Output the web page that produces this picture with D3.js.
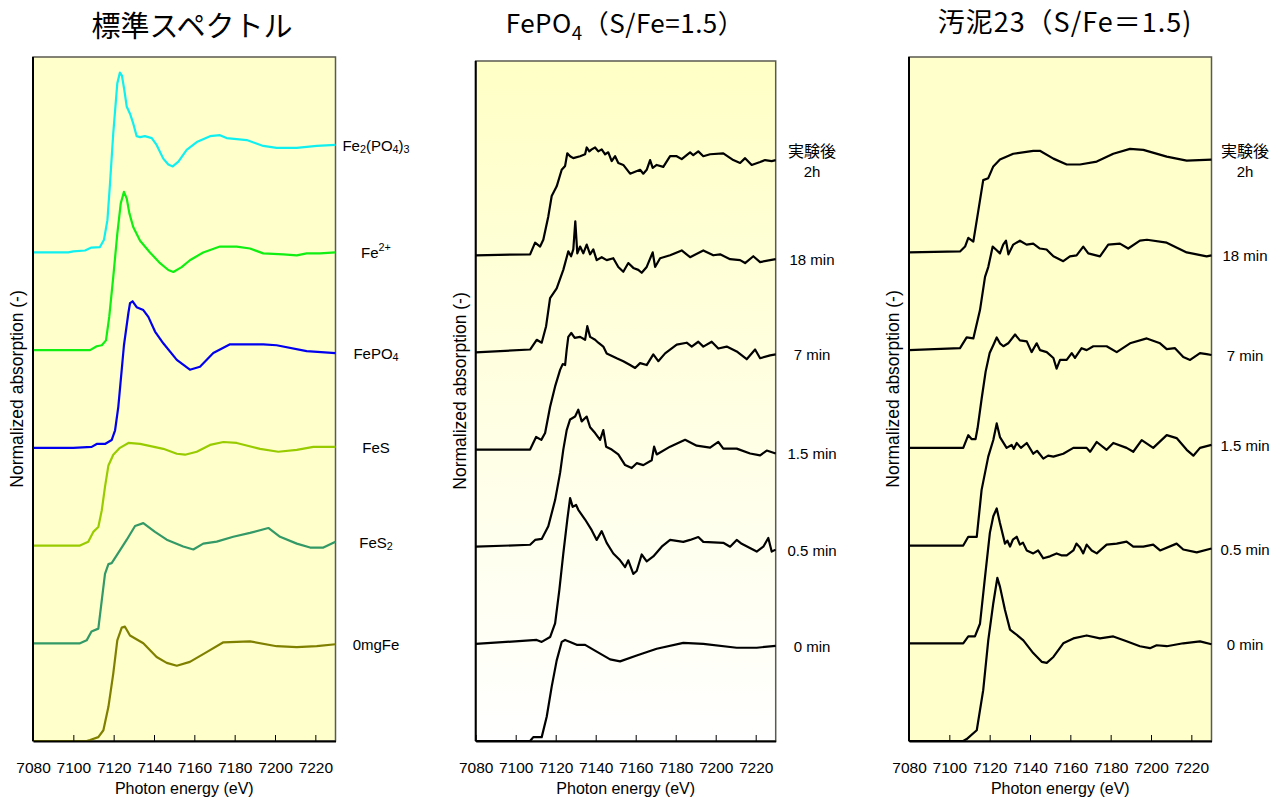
<!DOCTYPE html>
<html>
<head>
<meta charset="utf-8">
<script src="https://cdn.jsdelivr.net/npm/d3@7"></script>
<style>
  body { margin: 0; background: #fff; }
  svg text { font-family: "Liberation Sans", Arial, sans-serif; fill: #000; }
</style>
</head>
<body>
<svg id="chart" width="1283" height="799"></svg>
<script>
// ---- data (energy in eV, normalized absorption without stack offset) ----
var energyTicks = [7080, 7100, 7120, 7140, 7160, 7180, 7200, 7220];

// standard spectra, bottom to top
var std0mgFe = [[7080,0],[7106.6,0],[7108.3,0.01],[7112.4,0.04],[7114.9,0.11],[7117.4,0.35],[7119.8,0.69],[7121.8,1.03],[7124,1.16],[7125.6,1.17],[7128.1,1.08],[7134.7,1.0],[7141.3,0.86],[7146.3,0.80],[7151.3,0.77],[7157.8,0.81],[7166.1,0.91],[7174.4,1.01],[7187.6,1.02],[7200.8,0.97],[7210.8,0.96],[7220.7,0.97],[7230,0.99]];
var stdFeS2 = [[7080,0],[7103.3,0],[7106.6,0.03],[7109,0.12],[7112.4,0.15],[7114.1,0.44],[7115.7,0.71],[7117.4,0.81],[7119,0.82],[7121.5,0.90],[7126.5,1.06],[7130.6,1.20],[7134.7,1.23],[7140.5,1.14],[7146.3,1.06],[7154.5,0.99],[7159.5,0.96],[7164.4,1.02],[7171.1,1.04],[7179.3,1.09],[7187.6,1.13],[7196.7,1.18],[7202.5,1.09],[7210.8,1.02],[7217.4,0.98],[7224,0.98],[7230,1.04]];
var stdFeS = [[7080,0],[7103.3,0],[7107.4,0.04],[7109.9,0.14],[7112.4,0.19],[7114.1,0.36],[7115.7,0.60],[7117.4,0.82],[7119.8,0.93],[7123.1,1.0],[7127.3,1.05],[7133.1,1.04],[7144.6,0.99],[7151.3,0.94],[7155.4,0.93],[7161.2,0.96],[7167.8,1.03],[7174.4,1.06],[7181,1.05],[7192.6,0.99],[7201.6,0.96],[7210.8,0.98],[7219,1.01],[7230,1.01]];
var stdFePO4 = [[7080,0],[7100,0],[7109.1,0.01],[7111.6,0.04],[7115.7,0.04],[7119,0.08],[7120.7,0.18],[7122.3,0.42],[7124,0.80],[7125.1,1.05],[7127.3,1.38],[7128.1,1.48],[7129.4,1.50],[7131.4,1.44],[7134.7,1.41],[7137.2,1.34],[7140.5,1.19],[7144.6,1.07],[7151.3,0.90],[7157.8,0.80],[7162.8,0.83],[7169.4,0.97],[7177.7,1.06],[7194.2,1.06],[7200.8,1.05],[7215.7,0.99],[7230,0.97]];
var stdFe2plus = [[7080,0],[7108.3,0],[7111.6,0.04],[7114.1,0.05],[7116.2,0.1],[7117.8,0.34],[7119.8,0.75],[7121.8,1.19],[7123.5,1.50],[7125.1,1.62],[7126.5,1.55],[7127.8,1.40],[7129.7,1.26],[7133.1,1.12],[7138,1.0],[7143,0.89],[7147.1,0.82],[7149.6,0.80],[7153.7,0.85],[7157.8,0.92],[7164.4,1.0],[7172.7,1.06],[7181,1.06],[7187.6,1.04],[7194.2,0.99],[7204.1,0.98],[7210.8,0.97],[7215.7,0.99],[7222.3,0.99],[7230,1.0]];
var stdFe2PO43 = [[7080,0],[7097.5,0],[7100,0.01],[7105.8,0.02],[7109,0.05],[7113.2,0.055],[7115.2,0.13],[7116.9,0.33],[7118.2,0.71],[7119.8,1.22],[7121.8,1.73],[7123.1,1.84],[7124.1,1.81],[7125.3,1.66],[7126.5,1.49],[7128.1,1.42],[7129.7,1.32],[7131.4,1.19],[7133.1,1.18],[7135.5,1.19],[7138.9,1.17],[7141.3,1.10],[7144.6,0.96],[7147.1,0.90],[7149.3,0.88],[7152.1,0.93],[7156.2,1.05],[7161.2,1.13],[7167.8,1.19],[7172.7,1.20],[7176,1.17],[7186,1.15],[7194.2,1.09],[7200.8,1.07],[7210.8,1.07],[7220.7,1.09],[7230,1.10]];
var stdLabels = ["0mgFe", "FeS_2", "FeS", "FePO_4", "Fe^{2+}", "Fe_2(PO_4)_3"];
var stdColors = ["#808000", "#339966", "#99cc00", "#0000ee", "#11ee11", "#11f0f0"];

// FePO4 (S/Fe=1.5), bottom to top
var fp0 = [[7080,0],[7107.2,0],[7108.8,0.04],[7113,0.04],[7115.5,0.25],[7118,0.56],[7120.5,0.83],[7123,1.02],[7124.7,1.04],[7127.2,1.02],[7130.5,0.99],[7134.7,0.99],[7140.5,0.92],[7147.2,0.84],[7152.2,0.82],[7160.5,0.88],[7170.5,0.95],[7183.8,1.01],[7193.8,1.0],[7210.5,0.96],[7220.5,0.96],[7230,0.98]];
var fp05 = [[7080,0],[7110.5,0.04],[7113,0.02],[7117.2,0.07],[7119.7,0.21],[7121.8,0.55],[7123.8,0.93],[7125.8,1.28],[7127.2,1.50],[7128.5,1.41],[7130.2,1.43],[7131.3,1.38],[7134.7,1.28],[7138,1.17],[7140.5,1.07],[7143,1.16],[7145.5,1.04],[7148.8,0.93],[7152.2,0.86],[7154.7,0.79],[7156.3,0.86],[7158.8,0.72],[7160.5,0.75],[7163,0.92],[7165.5,0.85],[7168.8,0.90],[7173,1.0],[7177.2,1.07],[7183.8,1.05],[7187.2,1.07],[7191.3,1.10],[7193.8,1.05],[7203.8,1.04],[7207.2,1.0],[7210.5,1.07],[7213,1.03],[7220.5,0.95],[7223.8,1.0],[7226.3,1.09],[7228,0.95],[7230,0.97]];
var fp15 = [[7080,0],[7107.2,0.02],[7109.7,0.07],[7113,0.08],[7116.3,0.21],[7119.7,0.48],[7122.2,0.76],[7123.8,1.0],[7125.5,1.20],[7127.2,1.31],[7129.7,1.34],[7131.3,1.41],[7133,1.29],[7135.5,1.34],[7137.2,1.23],[7139.7,1.17],[7142.2,1.10],[7143.8,1.20],[7145.2,1.03],[7148,1.0],[7151.3,0.95],[7154.7,0.84],[7158,0.81],[7160.5,0.86],[7163.8,0.84],[7168,0.89],[7169.2,1.03],[7170.5,0.95],[7177.2,1.03],[7184.7,1.10],[7190.5,1.04],[7197.2,1.02],[7201.3,1.08],[7203.8,1.01],[7210.5,1.01],[7217.2,0.96],[7222.2,0.94],[7225.5,0.99],[7230,0.96]];
var fp7 = [[7080,0],[7107.2,0],[7110.2,0.13],[7112.8,0.10],[7114.7,0.17],[7117.2,0.44],[7119.7,0.65],[7122.2,0.82],[7123.5,0.88],[7124.7,0.87],[7125.5,1.03],[7126.3,1.16],[7127.8,1.20],[7129.5,1.15],[7132.2,1.16],[7134.7,1.13],[7135.8,1.27],[7137.2,1.16],[7139.7,1.13],[7141.3,1.10],[7143.8,1.06],[7145.5,0.99],[7150.5,0.94],[7153.8,0.91],[7157.2,0.87],[7159.7,0.84],[7162.2,0.89],[7165.5,0.87],[7168.8,0.98],[7171.3,0.91],[7174.7,0.99],[7180.5,1.08],[7185.5,1.10],[7188,1.06],[7191.3,1.11],[7193.8,1.06],[7198,1.11],[7201.3,1.04],[7205.5,1.06],[7210.5,1.01],[7215.5,0.93],[7219.7,1.03],[7222.2,0.94],[7227.2,0.97],[7230,0.98]];
var fp18 = [[7080,0],[7107.2,0.03],[7110.5,0.13],[7113,0.10],[7115.2,0.27],[7117.2,0.56],[7120.5,0.66],[7123.8,0.85],[7126.3,1.04],[7127.7,0.99],[7128.8,1.06],[7129.8,1.35],[7130.8,1.02],[7132.2,1.09],[7133.8,1.02],[7135.5,1.11],[7137.2,1.01],[7138.8,1.06],[7140.5,0.95],[7143,0.98],[7145.5,0.95],[7148.8,0.97],[7151.3,0.88],[7153.8,0.83],[7156.3,0.92],[7158.8,0.87],[7161.3,0.85],[7163,0.82],[7165.5,0.88],[7168.5,1.03],[7169.7,0.88],[7172.2,0.97],[7177.2,1.0],[7183,1.05],[7187.2,0.98],[7193.8,1.05],[7198.8,1.0],[7202.2,1.01],[7207.2,0.96],[7212.2,0.95],[7214.7,0.92],[7218.8,0.99],[7222.2,0.93],[7227.2,0.95],[7230,0.96]];
var fp2h = [[7080,0],[7107.2,0.01],[7109.7,0.13],[7112.2,0.09],[7113.8,0.16],[7116.3,0.40],[7118,0.61],[7120.5,0.71],[7123,0.88],[7124.7,0.92],[7125.8,1.05],[7127.2,1.02],[7128.8,1.0],[7132.2,1.02],[7134.7,1.04],[7135.5,1.11],[7136.8,1.07],[7138,1.09],[7139.7,1.11],[7141.3,1.07],[7143,1.09],[7144.7,1.04],[7146.3,1.06],[7148,0.97],[7149.7,1.02],[7151.3,0.95],[7153.8,0.93],[7157.2,0.84],[7159.7,0.86],[7162.2,0.88],[7163.8,0.84],[7165.5,0.88],[7167.2,0.98],[7168.5,0.90],[7170.5,0.93],[7173.8,0.91],[7177.2,1.02],[7180.5,1.02],[7183,0.99],[7187.2,1.06],[7188.8,1.03],[7191.3,1.07],[7193.8,1.02],[7197.2,1.04],[7203.8,1.05],[7208.8,0.98],[7212.2,0.95],[7214.7,1.0],[7218,0.93],[7222.2,0.96],[7224.7,0.98],[7228,0.97],[7230,0.98]];
var timeLabels = ["0 min", "0.5 min", "1.5 min", "7 min", "18 min", "実験後\n2h"];

// sludge 23 (S/Fe=1.5), bottom to top
var sl0 = [[7080,0],[7106.9,0],[7108.6,0.02],[7113.6,0.11],[7116.8,0.52],[7119.3,1.03],[7121.8,1.41],[7123.8,1.67],[7125.1,1.58],[7127.6,1.34],[7130.1,1.14],[7132.6,1.10],[7136.7,1.03],[7141.6,0.90],[7145.8,0.81],[7148.3,0.80],[7151.6,0.86],[7156.5,1.0],[7161.5,1.05],[7168.1,1.08],[7174.7,1.05],[7181.3,1.07],[7187.9,1.02],[7194.5,0.97],[7199.5,0.95],[7202.8,0.98],[7207.8,0.97],[7216,1.0],[7224.3,1.02],[7230,0.99]];
var sl05 = [[7080,0],[7106.9,0],[7109.4,0.07],[7112.7,0.07],[7115.2,0.2],[7117.7,0.68],[7120.1,1.13],[7121.8,1.30],[7123.5,1.38],[7125.1,1.23],[7127.6,1.02],[7128.8,1.05],[7130.1,0.99],[7131.5,1.06],[7133.4,1.09],[7135,1.01],[7136.5,1.03],[7138.4,0.95],[7141.6,0.92],[7144,0.95],[7146.6,0.87],[7149.9,0.89],[7153.2,0.92],[7155.5,0.90],[7158.2,0.90],[7161.5,0.95],[7163,1.02],[7164.8,0.98],[7166.4,0.92],[7168.1,1.01],[7170.6,0.95],[7173.1,0.92],[7178,1.01],[7183,1.02],[7187.9,1.04],[7191.2,0.99],[7196.2,0.99],[7201.1,1.01],[7204.5,0.95],[7212.7,1.02],[7216,0.96],[7222.7,0.93],[7230,0.97]];
var sl15 = [[7080,0],[7106.9,0],[7109.4,0.09],[7113.6,0.09],[7116,0.57],[7119.3,0.91],[7121.8,1.08],[7123.5,1.25],[7125.1,1.11],[7128.4,1.0],[7130.9,1.03],[7132,0.99],[7133.4,1.05],[7135.5,1.0],[7138.4,1.05],[7141.6,0.94],[7143.5,0.97],[7146.6,0.89],[7149,0.92],[7151.6,0.91],[7156.5,0.94],[7161.5,1.0],[7168.1,1.0],[7169.8,0.96],[7173.1,1.06],[7178,0.98],[7181.3,1.05],[7187.9,1.0],[7191.2,0.96],[7195.4,1.08],[7201.1,1.0],[7207.8,1.13],[7212.7,1.10],[7217.7,0.98],[7221,0.92],[7224.3,1.0],[7230,1.03]];
var sl7 = [[7080,0],[7106.9,0],[7109.4,0.13],[7111,0.09],[7113,0.09],[7114,0.2],[7116,0.5],[7118,0.78],[7120,0.97],[7122,1.06],[7123.5,1.13],[7125.1,1.07],[7126.8,1.04],[7129.2,1.07],[7132.6,1.16],[7135,1.10],[7138.4,1.09],[7140.8,0.98],[7143.3,1.07],[7145,1.0],[7148.3,0.98],[7151.6,0.92],[7153.2,0.81],[7154.9,0.9],[7158.2,0.9],[7160.7,0.97],[7162.3,0.92],[7165.6,1.02],[7168.1,1.0],[7171.4,1.04],[7178,1.04],[7183,0.98],[7189.6,1.07],[7197.9,1.12],[7204.5,1.07],[7207.8,1.01],[7211.9,1.02],[7216,0.93],[7219.4,0.90],[7224.3,0.97],[7227.6,0.96],[7230,0.95]];
var sl18 = [[7080,0],[7105.3,0.02],[7108.6,0.13],[7111.9,0.12],[7115.2,0.41],[7117.7,0.75],[7119.3,0.85],[7121.5,1.06],[7123.1,1.03],[7125.1,0.99],[7126.7,1.08],[7128.1,1.12],[7129.3,0.98],[7131.7,1.08],[7135,1.12],[7138.3,1.08],[7141.6,1.09],[7144.9,1.04],[7148.2,1.03],[7151.6,0.96],[7156.5,0.91],[7159.8,0.96],[7163.1,0.97],[7166.4,1.06],[7168.9,0.99],[7174.7,0.96],[7178.8,1.08],[7184.6,1.09],[7188.7,1.04],[7194.5,1.12],[7198,1.13],[7207.8,1.10],[7217.7,1.0],[7227.6,0.96],[7230,0.97]];
var sl2h = [[7080,0],[7105.3,0.01],[7107.8,0.06],[7109.4,0.15],[7111.9,0.11],[7114.4,0.43],[7116.8,0.74],[7119.3,0.76],[7121.8,0.88],[7125.1,0.95],[7131.7,1.01],[7141.6,1.04],[7144.9,1.04],[7151.6,0.96],[7158.2,0.90],[7164.8,0.90],[7173.1,0.93],[7181.3,1.01],[7189.6,1.06],[7196.2,1.05],[7207.8,0.98],[7217.7,0.94],[7230,0.95]];

var blacks = ["#000", "#000", "#000", "#000", "#000", "#000"];

// ---- layout ----
var panels = [
  { x0: 33, x1: 335.5, y0: 57, y1: 741, series: [std0mgFe, stdFeS2, stdFeS, stdFePO4, stdFe2plus, stdFe2PO43],
    labels: stdLabels, colors: stdColors, labelX: 376, title: "標準スペクトル", titleX: 192, titleY: 37, titleSize: 29, spacing: 0, gradient: false },
  { x0: 475.7, x1: 775.7, y0: 61, y1: 741, series: [fp0, fp05, fp15, fp7, fp18, fp2h],
    labels: timeLabels, colors: blacks, labelX: 812, title: "FePO_4（S/Fe=1.5）", titleX: 625, titleY: 33, titleSize: 26, spacing: 0.5, gradient: true },
  { x0: 909, x1: 1211.5, y0: 57, y1: 741, series: [sl0, sl05, sl15, sl7, sl18, sl2h],
    labels: timeLabels, colors: blacks, labelX: 1245, title: "汚泥23（S/Fe＝1.5)", titleX: 1065, titleY: 32, titleSize: 27, spacing: 1, gradient: false }
];

var svg = d3.select("#chart");

var defs = svg.append("defs");
var grad = defs.append("linearGradient")
  .attr("id", "fade").attr("x1", 0).attr("y1", 0).attr("x2", 0).attr("y2", 1);
grad.append("stop").attr("offset", "0%").attr("stop-color", "#ffffc6");
grad.append("stop").attr("offset", "100%").attr("stop-color", "#ffffff");

// writes "Fe_2(PO_4)_3" / "Fe^{2+}" as tspans with sub/superscripts
function richText(text, str, size) {
  var re = /_\{[^}]*\}|_.|\^\{[^}]*\}|\^.|[^_^]+/g;
  var tokens = str.match(re) || [];
  var shift = 0;
  tokens.forEach(function(tok) {
    var kind = tok[0] === "_" ? "sub" : tok[0] === "^" ? "sup" : "norm";
    var s = kind === "norm" ? tok : tok.slice(1).replace(/[{}]/g, "");
    var target = kind === "sub" ? size * 0.28 : kind === "sup" ? -size * 0.38 : 0;
    text.append("tspan")
      .attr("dy", target - shift)
      .style("font-size", (kind === "norm" ? size : size * 0.72) + "px")
      .text(s);
    shift = target;
  });
}

panels.forEach(function(p) {
  var x = d3.scaleLinear().domain([7080, 7230]).range([p.x0, p.x1]);
  var y = d3.scaleLinear().domain([0, 7]).range([p.y1, p.y0]);
  var g = svg.append("g");

  g.append("rect")
    .attr("x", p.x0).attr("y", p.y0)
    .attr("width", p.x1 - p.x0).attr("height", p.y1 - p.y0)
    .attr("fill", p.gradient ? "url(#fade)" : "#ffffcc")
    .attr("stroke", "#5a5a50")
    .attr("stroke-width", 1.5);

  var line = d3.line()
    .x(function(d) { return x(d[0]); })
    .y(function(d) { return y(d[1] + d.offset); });

  p.series.forEach(function(s, i) {
    var pts = s.map(function(d) { var q = [d[0], d[1]]; q.offset = i; return q; });
    g.append("path")
      .attr("d", line(pts))
      .attr("fill", "none")
      .attr("stroke", p.colors[i])
      .attr("stroke-width", 2.2)
      .attr("stroke-linejoin", "round");

    var endY = y(s[s.length - 1][1] + i);
    var lines = p.labels[i].split("\n");
    lines.forEach(function(txt, k) {
      var isCJK = /[^\x00-\x7f]/.test(txt);
      var ty = lines.length > 1 ? endY - 10 + k * 21 : endY;
      var t = g.append("text")
        .attr("x", p.labelX).attr("y", ty)
        .attr("text-anchor", "middle")
        .attr("dominant-baseline", "central")
        .style("font-size", isCJK ? "16px" : "15px")
        .style("font-family", isCJK ? "'Noto Sans CJK JP', sans-serif" : null);
      richText(t, txt, isCJK ? 16 : 15);
    });
  });

  // left axis line
  g.append("line")
    .attr("x1", p.x0).attr("x2", p.x0)
    .attr("y1", p.y0).attr("y2", p.y1)
    .attr("stroke", "#000").attr("stroke-width", 2);

  var xAxis = g.append("g")
    .attr("transform", "translate(0," + p.y1 + ")")
    .call(d3.axisBottom(x).tickValues(energyTicks).tickFormat(d3.format("d"))
      .tickSizeInner(-6).tickSizeOuter(0).tickPadding(21));
  xAxis.select(".domain").attr("stroke", "#000").attr("stroke-width", 2);
  xAxis.selectAll(".tick line").attr("stroke", "#000");
  xAxis.selectAll(".tick text")
    .style("font-size", "15.5px")
    .style("font-family", "'Liberation Sans', Arial, sans-serif");

  g.append("text")
    .attr("x", (p.x0 + p.x1) / 2).attr("y", 794)
    .attr("text-anchor", "middle")
    .style("font-size", "16px")
    .text("Photon energy (eV)");

  g.append("text")
    .attr("transform", "translate(" + (p.x0 - 16) + "," + ((p.y0 + p.y1) / 2 - 10) + ") rotate(-90)")
    .attr("text-anchor", "middle")
    .attr("dominant-baseline", "central")
    .style("font-size", "17.5px")
    .text("Normalized absorption (-)");

  var title = g.append("text")
    .attr("x", p.titleX).attr("y", p.titleY)
    .attr("text-anchor", "middle")
    .style("font-family", "'Noto Sans CJK JP', sans-serif")
    .style("letter-spacing", p.spacing + "px")
    .style("font-size", p.titleSize + "px");
  richText(title, p.title, p.titleSize);
});
</script>
</body>
</html>
